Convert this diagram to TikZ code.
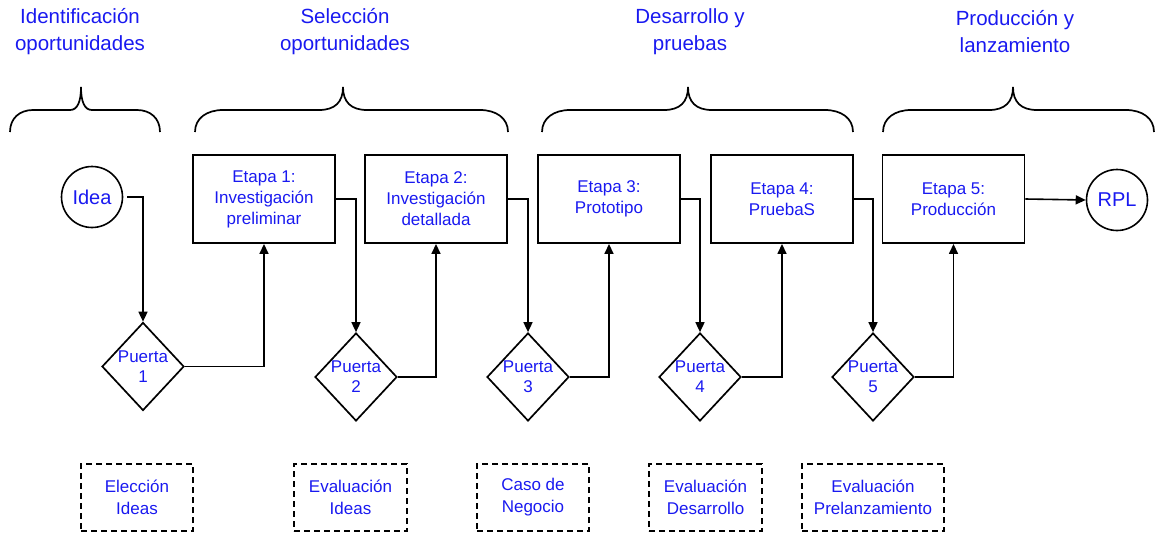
\documentclass[tikz,border=0pt]{standalone}
\usepackage{fontspec}
\setmainfont{Liberation Sans}
\usetikzlibrary{arrows.meta,shapes.geometric}
\definecolor{txtblue}{RGB}{25,25,240}

% curly brace over a phase: left end, right end, tip position, end radius, tip radius
\newcommand\phasebrace[5]{%
  \draw[bracestyle] (#1,132) .. controls (#1,118) and (#1+0.43*#4,110) .. (#1+#4,110)
    -- (#3-#5,110) .. controls (#3-0.33*#5,110) and (#3,102) .. (#3,87)
    .. controls (#3,102) and (#3+0.33*#5,110) .. (#3+#5,110)
    -- (#2-#4,110) .. controls (#2-0.43*#4,110) and (#2,118) .. (#2,132);}

\begin{document}
\begin{tikzpicture}[x=1pt,y=-1pt,
  every node/.style={text=txtblue, font=\fontsize{17}{21}\selectfont, align=center},
  header/.style={font=\fontsize{20.5}{27}\selectfont},
  stagebox/.style={draw=black, line width=1.9pt, minimum width=142pt, minimum height=88pt, inner sep=0pt},
  gate/.style={draw=black, diamond, line width=1.7pt, minimum width=82pt, minimum height=88pt, inner sep=0pt},
  gatetext/.style={inner sep=0pt, font=\fontsize{17}{20}\selectfont},
  endpoint/.style={draw=black, circle, line width=1.6pt, minimum size=61pt, inner sep=0pt, font=\fontsize{20}{24}\selectfont},
  review/.style={draw=black, dashed, dash pattern=on 6pt off 4pt, line width=1.6pt, minimum height=67pt, inner sep=0pt, font=\fontsize{17}{22}\selectfont},
  flow/.style={draw=black, line width=1.6pt, -{Triangle[length=10pt,width=9pt]}},
  bracestyle/.style={draw=black, line width=1.7pt}]

\useasboundingbox (0,0) rectangle (1158,533);

% phase titles
\node[header] (h1) at (80,31.5) {Identificación\\oportunidades};
\node[header] (h2) at (345,31.5) {Selección\\oportunidades};
\node[header] (h3) at (690,31.5) {Desarrollo y\\pruebas};
\node[header] (h4) at (1015,31.5) {Producción y\\lanzamiento};

% braces grouping the stages
\phasebrace{10}{160}{81}{23}{11}
\phasebrace{195}{508}{343}{28}{24}
\phasebrace{542}{853}{688}{28}{24}
\phasebrace{883}{1154}{1013}{28}{24}

% start and end
\node[endpoint] (idea) at (92,197) {Idea};
\node[endpoint] (rpl) at (1117,200) {RPL};

% stages
\node[stagebox] (s1) at (264,199) {Etapa 1:\\Investigación\\preliminar};
\node[stagebox] (s2) at (436,199) {Etapa 2:\\Investigación\\detallada};
\node[stagebox] (s3) at (609,199) {Etapa 3:\\Prototipo};
\node[stagebox] (s4) at (782,199) {Etapa 4:\\PruebaS};
\node[stagebox] (s5) at (953.5,199) {Etapa 5:\\Producción};

% gates
\node[gate] (g1) at (143,366.5) {};
\node[gate] (g2) at (356,377) {};
\node[gate] (g3) at (528,377) {};
\node[gate] (g4) at (700,377) {};
\node[gate] (g5) at (873,377) {};
\node[gatetext] (t1) at (g1) {Puerta\\1};
\node[gatetext] (t2) at (g2) {Puerta\\2};
\node[gatetext] (t3) at (g3) {Puerta\\3};
\node[gatetext] (t4) at (g4) {Puerta\\4};
\node[gatetext] (t5) at (g5) {Puerta\\5};

% gate reviews
\node[review, minimum width=112pt] (r1) at (137,497.5) {Elección\\Ideas};
\node[review, minimum width=113pt] (r2) at (350.5,497.5) {Evaluación\\Ideas};
\node[review, minimum width=112pt] (r3) at (533,497.5) {Caso de\\Negocio};
\node[review, minimum width=113pt] (r4) at (705.5,497.5) {Evaluación\\Desarrollo};
\node[review, minimum width=142pt] (r5) at (873,497.5) {Evaluación\\Prelanzamiento};

% flow
\draw[flow] ([xshift=4pt]idea.east) -| (g1.north);
\draw[flow] (g1.east) -| (s1.south);
\draw[flow] (s1.east) -| (g2.north);
\draw[flow] (g2.east) -| (s2.south);
\draw[flow] (s2.east) -| (g3.north);
\draw[flow] (g3.east) -| (s3.south);
\draw[flow] (s3.east) -| (g4.north);
\draw[flow] (g4.east) -| (s4.south);
\draw[flow] (s4.east) -| (g5.north);
\draw[flow] (g5.east) -| (s5.south);
\draw[flow] (s5.east) -- (rpl.west);

\end{tikzpicture}
\end{document}
